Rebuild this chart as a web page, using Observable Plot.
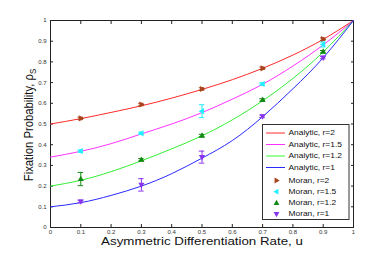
<!DOCTYPE html>
<html><head><meta charset="utf-8">
<script src="https://cdn.jsdelivr.net/npm/d3@7"></script>
<script src="https://cdn.jsdelivr.net/npm/@observablehq/plot@0.6"></script>
<style>body{margin:0;background:#fff}#c{position:relative;width:390px;height:256px}</style>
</head><body><div id="c"></div>
<script>
// ---- data ----
const uGrid = [0, 0.1, 0.2, 0.3, 0.4, 0.5, 0.6, 0.7, 0.8, 0.9, 1];
const analytic_r2  = [0.5, 0.526, 0.556, 0.588, 0.625, 0.667, 0.714, 0.769, 0.833, 0.909, 1];
const analytic_r15 = [0.34, 0.368, 0.405, 0.452, 0.50, 0.555, 0.62, 0.692, 0.78, 0.882, 1];
const analytic_r12 = [0.2, 0.228, 0.27, 0.322, 0.38, 0.443, 0.52, 0.612, 0.72, 0.848, 1];
const analytic_r1  = [0.1, 0.12, 0.155, 0.2, 0.26, 0.335, 0.42, 0.535, 0.67, 0.82, 1];

const uMoran = [0.1, 0.3, 0.5, 0.7, 0.9];
const moran_r2  = [0.527, 0.594, 0.669, 0.769, 0.91];
const moran_r15 = [0.369, 0.455, 0.562, 0.693, 0.884];
const moran_r12 = [0.234, 0.327, 0.444, 0.616, 0.849];
const moran_r1  = [0.126, 0.206, 0.34, 0.537, 0.821];
const err_r2  = [0.006, 0.006, 0.006, 0.006, 0.006];
const err_r15 = [0.006, 0.006, 0.031, 0.006, 0.012];
const err_r12 = [0.032, 0.006, 0.006, 0.006, 0.006];
const err_r1  = [0.006, 0.030, 0.029, 0.006, 0.006];

const xTicks = [0, 0.1, 0.2, 0.3, 0.4, 0.5, 0.6, 0.7, 0.8, 0.9, 1];
const yTicks = [0, 0.1, 0.2, 0.3, 0.4, 0.5, 0.6, 0.7, 0.8, 0.9, 1];

const lineColors  = ["#ff2a2a", "#ff33ff", "#33ee33", "#2a2aff"];
const markColors  = ["#a8431c", "#22eeff", "#118811", "#8833ee"];
const lineNames   = ["Analytic, r=2", "Analytic, r=1.5", "Analytic, r=1.2", "Analytic, r=1"];
const markNames   = ["Moran, r=2", "Moran, r=1.5", "Moran, r=1.2", "Moran, r=1"];
const xLabel = "Asymmetric Differentiation Rate, u";
const yLabel = "Fixation Probability, ρ";
const yLabelSub = "S";

// ---- symbols ----
function tri(dir) {
  return {draw(ctx, size) {
    const s = Math.sqrt(size / Math.PI);
    const a = s, b = s * 0.9, c = s * 0.6;
    const pts = {
      right: [[a,0],[-c,-b],[-c,b]],
      left:  [[-a,0],[c,-b],[c,b]],
      up:    [[0,-a],[-b,c],[b,c]],
      down:  [[0,a],[-b,-c],[b,-c]]
    }[dir];
    ctx.moveTo(pts[0][0], pts[0][1]);
    ctx.lineTo(pts[1][0], pts[1][1]);
    ctx.lineTo(pts[2][0], pts[2][1]);
    ctx.closePath();
  }};
}
const symbols = [tri("right"), tri("left"), tri("up"), tri("down")];

const analyticSeries = [analytic_r2, analytic_r15, analytic_r12, analytic_r1];
const moranSeries = [moran_r2, moran_r15, moran_r12, moran_r1];
const errSeries = [err_r2, err_r15, err_r12, err_r1];

const lineData = analyticSeries.flatMap((vals, i) => vals.map((v, j) => ({u: uGrid[j], p: v, k: i})));
const moranData = moranSeries.flatMap((vals, i) => vals.map((v, j) => ({u: uMoran[j], p: v, e: errSeries[i][j], k: i})));

const fmt = d => String(d);
const marks = [
  Plot.frame({stroke: "#222", strokeWidth: 1}),
  Plot.axisX(xTicks, {anchor: "bottom", tickSize: 0, tickPadding: 2, tickFormat: fmt, fontSize: 6, fill: "#333", label: null}),
  Plot.axisX(xTicks, {anchor: "bottom", tickSize: -3, tickFormat: () => "", label: null, stroke: "#222"}),
  Plot.axisX(xTicks, {anchor: "top", tickSize: -3, tickFormat: () => "", label: null, stroke: "#222"}),
  Plot.axisY(yTicks, {anchor: "left", tickSize: 0, tickPadding: 4, tickFormat: fmt, fontSize: 6, fill: "#333", label: null}),
  Plot.axisY(yTicks, {anchor: "left", tickSize: -3, tickFormat: () => "", label: null, stroke: "#222"}),
  Plot.axisY(yTicks, {anchor: "right", tickSize: -3, tickFormat: () => "", label: null, stroke: "#222"}),
];
for (let i = 0; i < 4; i++) {
  marks.push(Plot.line(lineData.filter(d => d.k === i), {x: "u", y: "p", stroke: lineColors[i], strokeWidth: 1, curve: "natural"}));
}
for (let i = 0; i < 4; i++) {
  const md = moranData.filter(d => d.k === i);
  marks.push(Plot.ruleX(md, {x: "u", y1: d => d.p - d.e, y2: d => d.p + d.e, stroke: markColors[i], strokeWidth: 1}));
  marks.push(Plot.ruleY(md, {y: d => d.p - d.e, x1: d => d.u - 0.009, x2: d => d.u + 0.009, stroke: markColors[i], strokeWidth: 1}));
  marks.push(Plot.ruleY(md, {y: d => d.p + d.e, x1: d => d.u - 0.009, x2: d => d.u + 0.009, stroke: markColors[i], strokeWidth: 1}));
  marks.push(Plot.dot(md, {x: "u", y: "p", r: 3.4, symbol: () => symbols[i], fill: markColors[i], stroke: "none"}));
}

const plot = Plot.plot({
  width: 390, height: 256,
  marginTop: 20, marginRight: 37, marginBottom: 29, marginLeft: 50,
  x: {domain: [0, 1]},
  y: {domain: [0, 1]},
  style: {fontFamily: "Liberation Sans, Arial, sans-serif", background: "#fff"},
  marks
});
document.getElementById("c").appendChild(plot);

const svg = d3.select(plot);
const font = "Liberation Sans, Arial, sans-serif";
// x label (slightly stretched like the reference)
svg.append("text")
  .attr("transform", "translate(202,245) scale(1.18,1)")
  .attr("text-anchor", "middle").attr("font-size", 11.3).attr("font-family", font)
  .attr("fill", "#111").text(xLabel);
// y label with subscript
const yl = svg.append("text")
  .attr("transform", "translate(33,125) scale(1.15,1) rotate(-90)")
  .attr("text-anchor", "middle").attr("font-size", 11.3).attr("font-family", font)
  .attr("fill", "#111");
yl.append("tspan").text(yLabel);
yl.append("tspan").attr("font-size", 8).attr("dy", 3).text(yLabelSub);

// legend
const lg = svg.append("g").attr("font-family", font).attr("font-size", 7).attr("text-anchor", "start");
lg.append("rect").attr("x", 262.5).attr("y", 124.5).attr("width", 86.5).attr("height", 95)
  .attr("fill", "#fff").attr("stroke", "#333").attr("stroke-width", 1);
const lineY = [133, 144.5, 156, 167.5];
const markY = [180.5, 191.7, 203, 214];
lineNames.forEach((n, i) => {
  lg.append("line").attr("x1", 266).attr("x2", 285).attr("y1", lineY[i]).attr("y2", lineY[i])
    .attr("stroke", i === 2 ? "#99ff99" : lineColors[i]).attr("stroke-width", i === 2 ? 2 : 1);
  lg.append("text").attr("transform", `translate(288.5,${lineY[i]}) scale(1.2,1)`).attr("dy", "0.35em").attr("fill", "#111").text(n);
});
markNames.forEach((n, i) => {
  const p = d3.path(); symbols[i].draw(p, Math.PI * 3.2 * 3.2);
  lg.append("path").attr("d", p.toString()).attr("transform", `translate(276.5,${markY[i]})`).attr("fill", markColors[i]);
  lg.append("text").attr("transform", `translate(288.5,${markY[i]}) scale(1.2,1)`).attr("dy", "0.35em").attr("fill", "#111").text(n);
});
</script></body></html>
